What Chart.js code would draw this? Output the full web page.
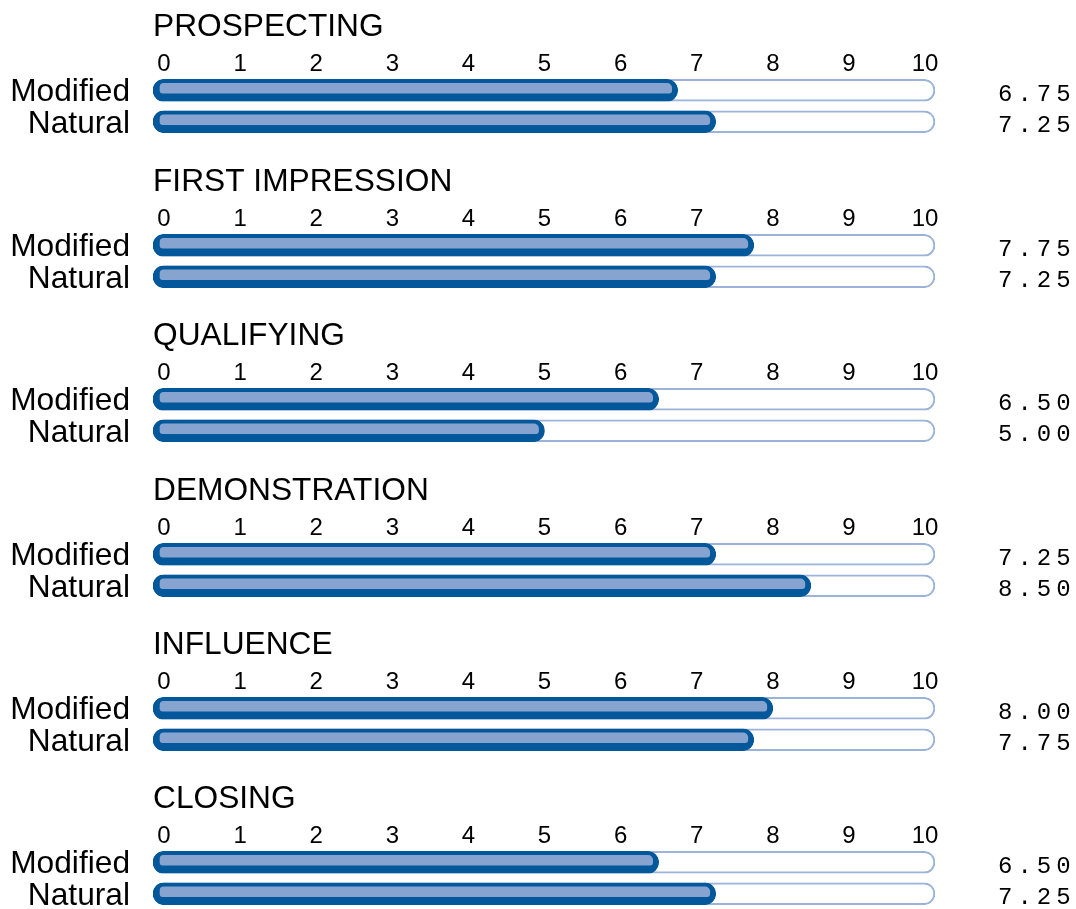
<!DOCTYPE html>
<html>
<head>
<meta charset="utf-8">
<script src="https://cdn.jsdelivr.net/npm/chart.js@4/dist/chart.umd.min.js"></script>
<style>
  html, body { margin: 0; padding: 0; background: #fff; overflow: hidden; }
  body { width: 1076px; height: 909px; position: relative; }
  .grupo { position: absolute; left: 0; width: 1076px; height: 155px; }
</style>
</head>
<body>
<script>
//datos
const groups = ['PROSPECTING', 'FIRST IMPRESSION', 'QUALIFYING', 'DEMONSTRATION', 'INFLUENCE', 'CLOSING'];
const rowLabels = ['Modified', 'Natural'];
const modified = [6.75, 7.75, 6.50, 7.25, 8.00, 6.50];
const natural = [7.25, 7.25, 5.00, 8.50, 7.75, 7.25];
const xTicks = [0, 1, 2, 3, 4, 5, 6, 7, 8, 9, 10];
const scaleMax = 10;

const tops = [0, 155, 309, 464, 618, 772];
const darkBlue = '#02589a';
const lightBlue = '#87a3cf';
const trackBlue = '#9cb3d9';

//espaciado de letras solo para la columna de valores (y2 se dibuja despues de las barras)
const spacingPlugin = {
    id: 'spacing',
    afterDatasetsDraw(chart) { chart.ctx.letterSpacing = '5px'; },
    afterDraw(chart) { chart.ctx.letterSpacing = '0px'; }
};

const noGrid = { display: false, drawTicks: false };

//ancho fijo del eje y sin el relleno vertical que agrega el padding de los ticks
const fixWidth = (w) => (s) => {
    s.width = w;
    s.paddingTop = 0;
    s.paddingBottom = 0;
};

const makeChart = (i) => {
    const div = document.createElement('div');
    div.className = 'grupo';
    div.style.top = tops[i] + 'px';
    const canvas = document.createElement('canvas');
    div.appendChild(canvas);
    document.body.appendChild(div);

    const values = [modified[i], natural[i]];
    const start = -0.145;
    const end = scaleMax + 0.131;

    new Chart(canvas, {
        type: 'bar',
        data: {
            labels: rowLabels,
            datasets: [{
                    label: 'valor',
                    data: values.map(v => [start, v]),
                    backgroundColor: lightBlue,
                    borderColor: darkBlue,
                    borderWidth: { top: 4, left: 7, bottom: 8, right: 6 },
                    borderRadius: 11,
                    borderSkipped: false,
                    barThickness: 22,
                    grouped: false,
                    order: 0
                },
                {
                    label: 'fondo',
                    data: values.map(() => [start, end]),
                    backgroundColor: '#ffffff',
                    borderColor: trackBlue,
                    borderWidth: 2,
                    borderRadius: 11,
                    borderSkipped: false,
                    barThickness: 22,
                    grouped: false,
                    order: 1
                }
            ]
        },
        options: {
            indexAxis: 'y',
            responsive: true,
            maintainAspectRatio: false,
            animation: false,
            layout: { padding: { bottom: 17.5 } },
            plugins: {
                legend: { display: false },
                tooltip: { enabled: false },
                title: {
                    display: true,
                    text: groups[i],
                    align: 'start',
                    fullSize: false,
                    color: '#000',
                    font: { family: 'Liberation Sans', size: 31.7, weight: 'normal' },
                    padding: { top: 8, bottom: 7.7 }
                }
            },
            scales: {
                x: {
                    position: 'top',
                    min: start,
                    max: end,
                    grid: noGrid,
                    border: { display: false },
                    afterBuildTicks: axis => { axis.ticks = xTicks.map(v => ({ value: v })); },
                    ticks: {
                        callback: v => String(v),
                        font: { family: 'Liberation Sans', size: 24 },
                        color: '#000',
                        padding: -4,
                        maxRotation: 0,
                        autoSkip: false
                    }
                },
                y: {
                    type: 'category',
                    position: 'left',
                    grid: noGrid,
                    border: { display: false },
                    afterFit: fixWidth(153),
                    ticks: {
                        font: { family: 'Liberation Sans', size: 31.7 },
                        color: '#000',
                        padding: 23,
                        labelOffset: 2,
                        autoSkip: false
                    }
                },
                y2: {
                    type: 'category',
                    position: 'right',
                    offset: true,
                    labels: values.map(v => v.toFixed(2)),
                    grid: noGrid,
                    border: { display: false },
                    afterFit: fixWidth(141),
                    ticks: {
                        font: { family: 'Liberation Mono', size: 24 },
                        color: '#000',
                        padding: 63,
                        labelOffset: 4,
                        autoSkip: false,
                        z: 1
                    }
                }
            }
        },
        plugins: [spacingPlugin]
    });
}

groups.forEach((g, i) => makeChart(i));
</script>
</body>
</html>
